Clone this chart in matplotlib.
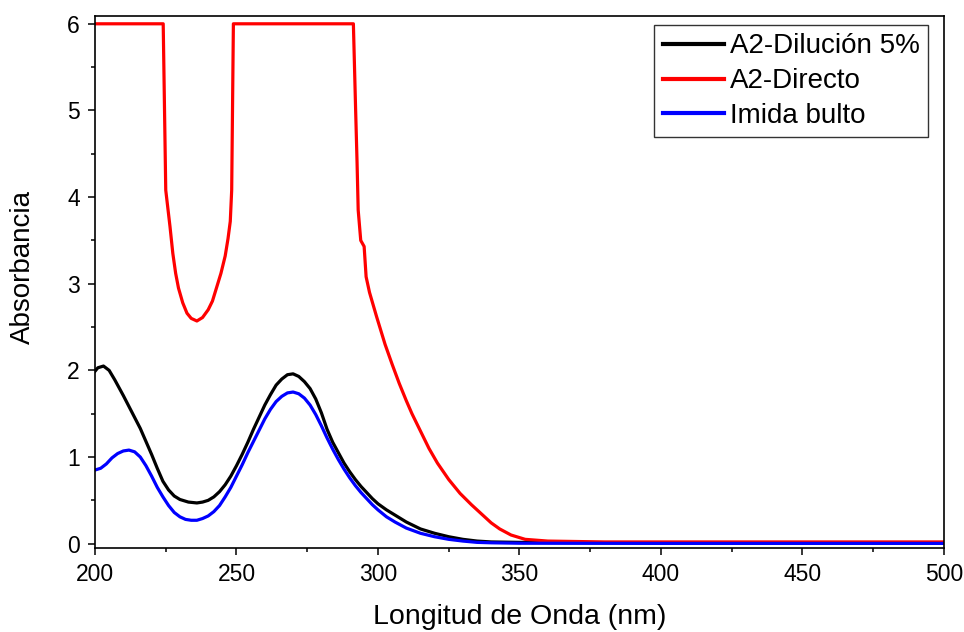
import matplotlib
matplotlib.use("Agg")
import matplotlib.pyplot as plt
from matplotlib.ticker import MultipleLocator

plt.rcParams['font.family'] = ['Liberation Sans', 'DejaVu Sans']

# Wavelength (nm) and absorbance for each series
x_dil = [200, 201, 203, 205, 207, 210, 213, 216, 218, 220, 222, 224, 226, 228, 230, 233, 236, 238,
         240, 242, 244, 246, 248, 250, 252, 254, 256, 258, 260, 262, 264, 266, 268, 270, 272, 274,
         276, 278, 280, 282, 284, 286, 288, 290, 292, 294, 296, 298, 300, 303, 306, 310, 315, 320,
         325, 330, 335, 340, 350, 400, 500]
y_dil = [1.99, 2.03, 2.05, 2.00, 1.89, 1.71, 1.52, 1.33, 1.18, 1.03, 0.87, 0.72, 0.62, 0.55, 0.51,
         0.48, 0.47, 0.48, 0.50, 0.54, 0.60, 0.68, 0.78, 0.90, 1.03, 1.17, 1.32, 1.46, 1.60, 1.72,
         1.83, 1.90, 1.95, 1.96, 1.93, 1.87, 1.79, 1.67, 1.51, 1.32, 1.17, 1.05, 0.93, 0.83, 0.74,
         0.66, 0.59, 0.52, 0.46, 0.39, 0.33, 0.25, 0.17, 0.12, 0.08, 0.05, 0.03, 0.02, 0.015, 0.01, 0.01]

x_dir = [200, 224.1, 225.0, 226, 226.5, 227.5, 228.5, 229.5, 231, 232.5, 234, 236, 238, 240, 241.5,
         243, 244.5, 246, 247, 247.8, 248.3, 248.9, 291.3, 292.1, 292.6, 293.0, 293.9, 295.1, 295.8,
         297, 299.5, 302.5, 305, 307.5, 310, 312, 315, 318, 321, 325, 329, 333, 336, 340, 343, 347,
         352, 360, 380, 500]
y_dir = [6.0, 6.0, 4.08, 3.80, 3.66, 3.35, 3.12, 2.95, 2.78, 2.66, 2.60, 2.57, 2.61, 2.70, 2.80,
         2.96, 3.12, 3.32, 3.52, 3.72, 4.08, 6.0, 6.0, 5.0, 4.4, 3.85, 3.50, 3.43, 3.08, 2.90, 2.62,
         2.30, 2.07, 1.85, 1.65, 1.50, 1.30, 1.10, 0.93, 0.74, 0.58, 0.45, 0.36, 0.24, 0.17, 0.10,
         0.05, 0.03, 0.02, 0.02]

x_imi = [200, 202, 204, 206, 208, 210, 212, 214, 216, 218, 220, 222, 224, 226, 228, 230, 232, 234,
         236, 238, 240, 242, 244, 246, 248, 250, 252, 254, 256, 258, 260, 262, 264, 266, 268, 270,
         272, 274, 276, 278, 280, 282, 284, 286, 288, 290, 292, 294, 296, 298, 300, 303, 306, 310,
         315, 320, 325, 330, 335, 340, 350, 400, 500]
y_imi = [0.85, 0.87, 0.92, 0.99, 1.04, 1.07, 1.08, 1.06, 1.00, 0.90, 0.78, 0.65, 0.54, 0.44, 0.36,
         0.31, 0.28, 0.27, 0.27, 0.29, 0.32, 0.37, 0.44, 0.54, 0.65, 0.78, 0.91, 1.05, 1.18, 1.31,
         1.44, 1.55, 1.64, 1.70, 1.74, 1.75, 1.73, 1.68, 1.60, 1.49, 1.36, 1.22, 1.09, 0.97, 0.86,
         0.76, 0.67, 0.59, 0.52, 0.45, 0.39, 0.31, 0.25, 0.18, 0.12, 0.08, 0.05, 0.03, 0.015, 0.01,
         0.005, 0.003, 0.003]

labels = ["A2-Dilución 5%", "A2-Directo", "Imida bulto"]
colors = ["#000000", "#ff0000", "#0000ff"]

fig = plt.figure(figsize=(9.64, 6.32), dpi=100)
ax = fig.add_axes([95/964, 1 - 548/632, (944-95)/964, (548-16)/632])

lw = 2.3
ax.plot(x_dil, y_dil, color=colors[0], lw=lw, label=labels[0])
ax.plot(x_dir, y_dir, color=colors[1], lw=lw, label=labels[1])
ax.plot(x_imi, y_imi, color=colors[2], lw=lw, label=labels[2])

ax.set_xlim(200, 500)
ax.set_ylim(-0.05, 6.09)
ax.xaxis.set_major_locator(MultipleLocator(50))
ax.xaxis.set_minor_locator(MultipleLocator(25))
ax.yaxis.set_major_locator(MultipleLocator(1))
ax.yaxis.set_minor_locator(MultipleLocator(0.5))
ax.tick_params(which='both', direction='out', width=1.1, labelsize=16.5, top=False, right=False)
ax.tick_params(which='major', length=5, pad=6)
ax.tick_params(which='minor', length=3)
for s in ax.spines.values():
    s.set_linewidth(1.2)

ax.set_xlabel("Longitud de Onda (nm)", fontsize=20.5)
ax.set_ylabel("Absorbancia", fontsize=20)
ax.xaxis.set_label_coords(0.5, -(617 - 548) / (548 - 16), transform=ax.transAxes)
ax.xaxis.label.set_va('center')
ax.yaxis.set_label_coords(-(95 - 23) / (944 - 95), (548 - 267) / (548 - 16), transform=ax.transAxes)
ax.yaxis.label.set_va('center')

leg = ax.legend(loc='upper right', bbox_to_anchor=(928/964, 1 - 25/632), bbox_transform=fig.transFigure,
                fontsize=20, frameon=True, fancybox=False, handlelength=2.2, handletextpad=0.22,
                labelspacing=0.32, borderpad=0.3, borderaxespad=0)
leg.get_frame().set_edgecolor('black')
leg.get_frame().set_linewidth(1.0)
for h in leg.get_lines():
    h.set_linewidth(3)

fig.savefig("out.png", dpi=100)
